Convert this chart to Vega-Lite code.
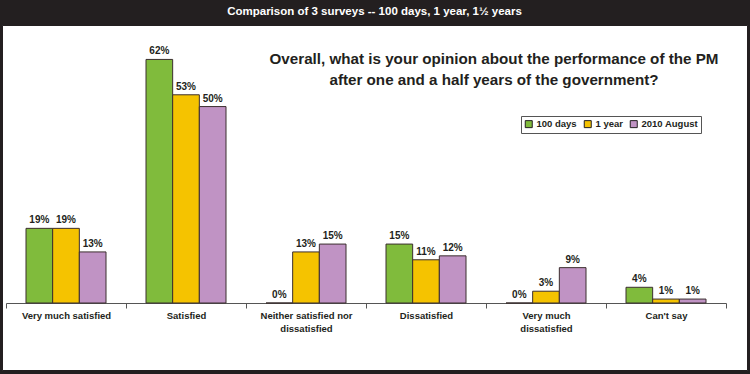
{
  "$schema": "https://vega.github.io/schema/vega-lite/v6.json",
  "width": 745,
  "height": 345,
  "autosize": {"type": "none"},
  "padding": {"top": 25, "left": 2, "right": 3, "bottom": 4},
  "background": "#231f20",
  "title": {
    "text": "Comparison of 3 surveys -- 100 days, 1 year, 1½ years",
    "color": "white",
    "font": "Liberation Sans, Arial, sans-serif",
    "fontSize": 11.5,
    "fontWeight": "bold",
    "anchor": "middle",
    "frame": "group",
    "offset": 8
  },
  "config": {
    "view": {"fill": "white", "stroke": "#231f20", "strokeWidth": 1}
  },
  "datasets": {
    "survey": [
      {"category": "Very much satisfied", "survey": "100 days", "value": 19},
      {"category": "Very much satisfied", "survey": "1 year", "value": 19},
      {"category": "Very much satisfied", "survey": "2010 August", "value": 13},
      {"category": "Satisfied", "survey": "100 days", "value": 62},
      {"category": "Satisfied", "survey": "1 year", "value": 53},
      {"category": "Satisfied", "survey": "2010 August", "value": 50},
      {"category": "Neither satisfied nor dissatisfied", "survey": "100 days", "value": 0},
      {"category": "Neither satisfied nor dissatisfied", "survey": "1 year", "value": 13},
      {"category": "Neither satisfied nor dissatisfied", "survey": "2010 August", "value": 15},
      {"category": "Dissatisfied", "survey": "100 days", "value": 15},
      {"category": "Dissatisfied", "survey": "1 year", "value": 11},
      {"category": "Dissatisfied", "survey": "2010 August", "value": 12},
      {"category": "Very much dissatisfied", "survey": "100 days", "value": 0},
      {"category": "Very much dissatisfied", "survey": "1 year", "value": 3},
      {"category": "Very much dissatisfied", "survey": "2010 August", "value": 9},
      {"category": "Can't say", "survey": "100 days", "value": 4},
      {"category": "Can't say", "survey": "1 year", "value": 1},
      {"category": "Can't say", "survey": "2010 August", "value": 1}
    ],
    "note": [
      {"category": "Very much dissatisfied", "value": 60.8, "text": ["Overall, what is your opinion about the performance of the PM", "after one and a half years of the government?"]}
    ]
  },
  "layer": [
    {
      "data": {"name": "survey"},
      "mark": {"type": "bar", "stroke": "#3b2e2e", "strokeWidth": 1},
      "encoding": {
        "x": {
          "field": "category",
          "type": "nominal",
          "sort": ["Very much satisfied", "Satisfied", "Neither satisfied nor dissatisfied", "Dissatisfied", "Very much dissatisfied", "Can't say"],
          "scale": {"range": [4, 724], "paddingInner": 0, "paddingOuter": 0},
          "axis": {
            "title": null,
            "orient": "bottom",
            "offset": -67,
            "labelAngle": 0,
            "tickBand": "extent",
            "tickSize": 5,
            "tickColor": "#555555",
            "domainColor": "#555555",
            "labelFont": "Liberation Sans, Arial, sans-serif",
            "labelFontWeight": "bold",
            "labelFontSize": 9.5,
            "labelColor": "#231f20",
            "labelPadding": 2,
            "labelLineHeight": 13,
            "labelLimit": 0,
            "labelExpr": "datum.value == 'Neither satisfied nor dissatisfied' ? ['Neither satisfied nor', 'dissatisfied'] : datum.value == 'Very much dissatisfied' ? ['Very much', 'dissatisfied'] : datum.value"
          }
        },
        "xOffset": {
          "field": "survey",
          "type": "nominal",
          "sort": ["100 days", "1 year", "2010 August"],
          "scale": {"paddingInner": 0, "paddingOuter": 0.75}
        },
        "y": {
          "field": "value",
          "type": "quantitative",
          "scale": {"domain": [0, 70], "range": [278, 3], "nice": false, "zero": true},
          "axis": null
        },
        "color": {
          "field": "survey",
          "type": "nominal",
          "sort": ["100 days", "1 year", "2010 August"],
          "scale": {"domain": ["100 days", "1 year", "2010 August"], "range": ["#80bb3c", "#f5c300", "#c093c4"]},
          "legend": {
            "orient": "none",
            "legendX": 519,
            "legendY": 91,
            "direction": "horizontal",
            "title": null,
            "strokeColor": "#555555",
            "fillColor": "white",
            "padding": 3,
            "symbolType": "square",
            "symbolSize": 49,
            "symbolStrokeColor": "#231f20",
            "symbolStrokeWidth": 1,
            "symbolOpacity": 1,
            "labelFont": "Liberation Sans, Arial, sans-serif",
            "labelFontWeight": "bold",
            "labelFontSize": 9.5,
            "labelColor": "#231f20",
            "labelOffset": 3,
            "columnPadding": 5
          }
        }
      }
    },
    {
      "data": {"name": "survey"},
      "transform": [{"calculate": "datum.value + '%'", "as": "label"}],
      "mark": {
        "type": "text",
        "baseline": "alphabetic",
        "align": "center",
        "dy": -5,
        "font": "Liberation Sans, Arial, sans-serif",
        "fontWeight": "bold",
        "fontSize": 10,
        "color": "#231f20"
      },
      "encoding": {
        "x": {"field": "category", "type": "nominal", "sort": ["Very much satisfied", "Satisfied", "Neither satisfied nor dissatisfied", "Dissatisfied", "Very much dissatisfied", "Can't say"]},
        "xOffset": {"field": "survey", "type": "nominal", "sort": ["100 days", "1 year", "2010 August"]},
        "y": {"field": "value", "type": "quantitative"},
        "text": {"field": "label", "type": "nominal"}
      }
    },
    {
      "data": {"name": "note"},
      "mark": {
        "type": "text",
        "baseline": "alphabetic",
        "align": "center",
        "dx": 8,
        "lineHeight": 21,
        "font": "Liberation Sans, Arial, sans-serif",
        "fontWeight": "bold",
        "fontSize": 15.2,
        "color": "#231f20"
      },
      "encoding": {
        "x": {"field": "category", "type": "nominal", "bandPosition": 0, "sort": ["Very much satisfied", "Satisfied", "Neither satisfied nor dissatisfied", "Dissatisfied", "Very much dissatisfied", "Can't say"]},
        "y": {"field": "value", "type": "quantitative"},
        "text": {"field": "text"}
      }
    }
  ]
}
